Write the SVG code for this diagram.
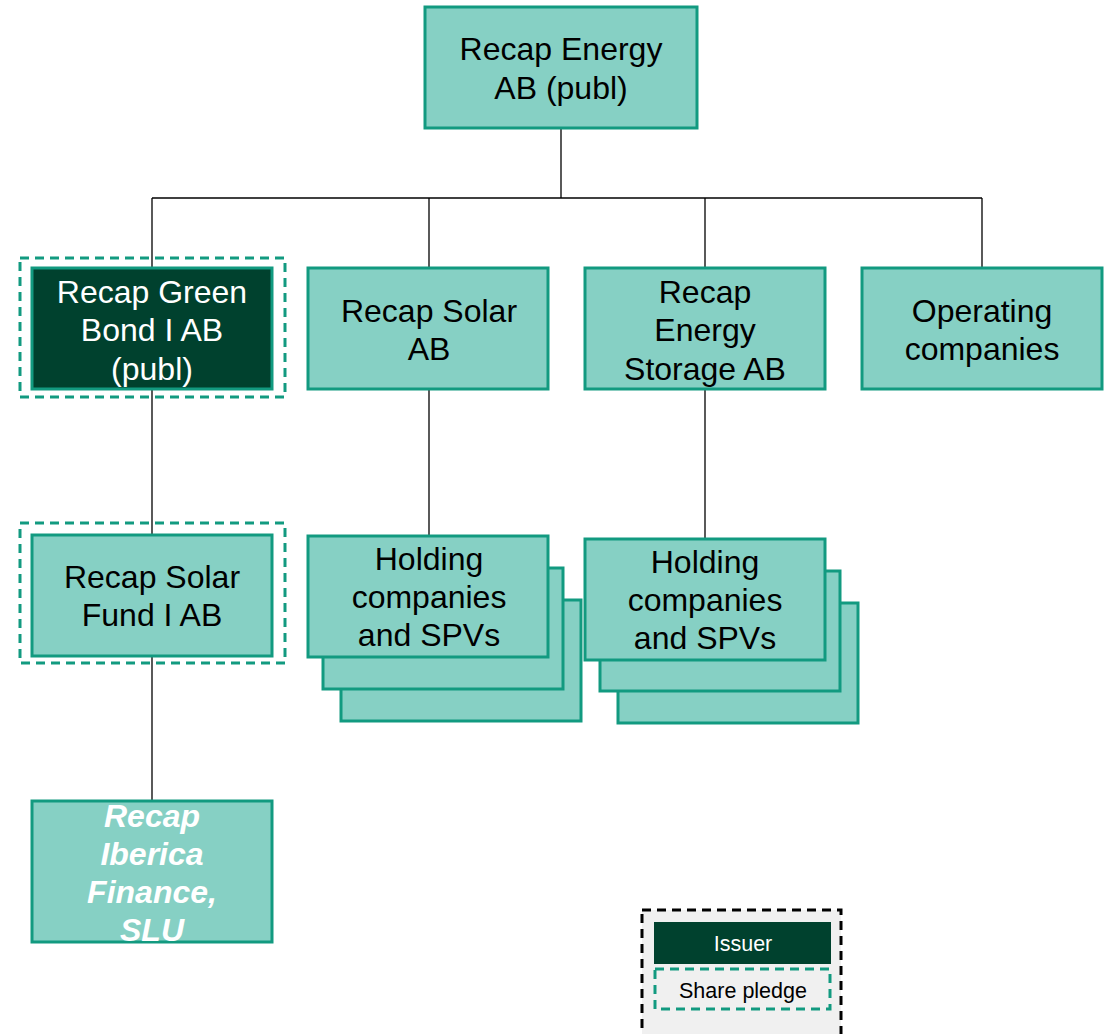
<svg xmlns="http://www.w3.org/2000/svg" width="1111" height="1034" viewBox="0 0 1111 1034">
<style>
.box{fill:#86D0C4;stroke:#129A80;stroke-width:3}
.dark{fill:#00412E;stroke:#129A80;stroke-width:3}
.pledge{fill:none;stroke:#129A80;stroke-width:3;stroke-dasharray:9,6}
.t{font-family:"Liberation Sans",Arial,sans-serif;font-size:32px;fill:#000;text-anchor:middle}
.w{fill:#fff}
.bi{font-weight:bold;font-style:italic}
.conn line{stroke:#000;stroke-width:1.3}
.lt{font-family:"Liberation Sans",Arial,sans-serif;font-size:21.5px;text-anchor:middle}
</style>
<rect width="1111" height="1034" fill="#fff"/>
<g id="connectors" class="conn">
<line x1="561" y1="128" x2="561" y2="198"/>
<line x1="152" y1="198" x2="982" y2="198"/>
<line x1="152" y1="198" x2="152" y2="268"/>
<line x1="429" y1="198" x2="429" y2="268"/>
<line x1="705" y1="198" x2="705" y2="268"/>
<line x1="982" y1="198" x2="982" y2="268"/>
<line x1="152" y1="389" x2="152" y2="535"/>
<line x1="152" y1="656" x2="152" y2="801"/>
<line x1="429" y1="389" x2="429" y2="536"/>
<line x1="705" y1="389" x2="705" y2="539"/>
</g>
<g id="recap-energy">
<rect class="box" x="425" y="7" width="272" height="121"/>
<text class="t" x="561" y="60">Recap Energy</text>
<text class="t" x="561" y="99">AB (publ)</text>
</g>
<g id="green-bond">
<rect class="pledge" x="20" y="258" width="265" height="139"/>
<rect class="dark" x="32" y="268" width="240" height="121"/>
<text class="t w" x="152" y="303">Recap Green</text>
<text class="t w" x="152" y="341">Bond I AB</text>
<text class="t w" x="152" y="380">(publ)</text>
</g>
<g id="recap-solar">
<rect class="box" x="308" y="268" width="240" height="121"/>
<text class="t" x="429" y="322">Recap Solar</text>
<text class="t" x="429" y="360">AB</text>
</g>
<g id="energy-storage">
<rect class="box" x="585" y="268" width="240" height="121"/>
<text class="t" x="705" y="303">Recap</text>
<text class="t" x="705" y="341">Energy</text>
<text class="t" x="705" y="380">Storage AB</text>
</g>
<g id="operating">
<rect class="box" x="862" y="268" width="240" height="121"/>
<text class="t" x="982" y="322">Operating</text>
<text class="t" x="982" y="360">companies</text>
</g>
<g id="solar-fund">
<rect class="pledge" x="20" y="523" width="265" height="140"/>
<rect class="box" x="32" y="535" width="240" height="121"/>
<text class="t" x="152" y="588">Recap Solar</text>
<text class="t" x="152" y="626">Fund I AB</text>
</g>
<g id="iberica">
<rect class="box" x="32" y="801" width="240" height="141"/>
<text class="t w bi" x="152" y="827">Recap</text>
<text class="t w bi" x="152" y="865">Iberica</text>
<text class="t w bi" x="152" y="903">Finance,</text>
<text class="t w bi" x="152" y="941">SLU</text>
</g>
<g id="holding-solar">
<rect class="box" x="341" y="600" width="240" height="121"/>
<rect class="box" x="323" y="568" width="240" height="121"/>
<rect class="box" x="308" y="536" width="240" height="121"/>
<text class="t" x="429" y="570">Holding</text>
<text class="t" x="429" y="608">companies</text>
<text class="t" x="429" y="646">and SPVs</text>
</g>
<g id="holding-storage">
<rect class="box" x="618" y="603" width="240" height="120"/>
<rect class="box" x="600" y="571" width="240" height="120"/>
<rect class="box" x="585" y="539" width="240" height="121"/>
<text class="t" x="705" y="573">Holding</text>
<text class="t" x="705" y="611">companies</text>
<text class="t" x="705" y="649">and SPVs</text>
</g>
<g id="legend">
<rect x="642" y="910" width="199" height="130" fill="#F0F0F0" stroke="#000" stroke-width="3" stroke-dasharray="9,6"/>
<rect x="654" y="922" width="177" height="42" fill="#00412E"/>
<text class="lt" x="743" y="951" fill="#fff">Issuer</text>
<rect x="655" y="969" width="175" height="40" fill="none" stroke="#129A80" stroke-width="3" stroke-dasharray="9,6"/>
<text class="lt" x="743" y="998" fill="#000">Share pledge</text>
</g>
</svg>
